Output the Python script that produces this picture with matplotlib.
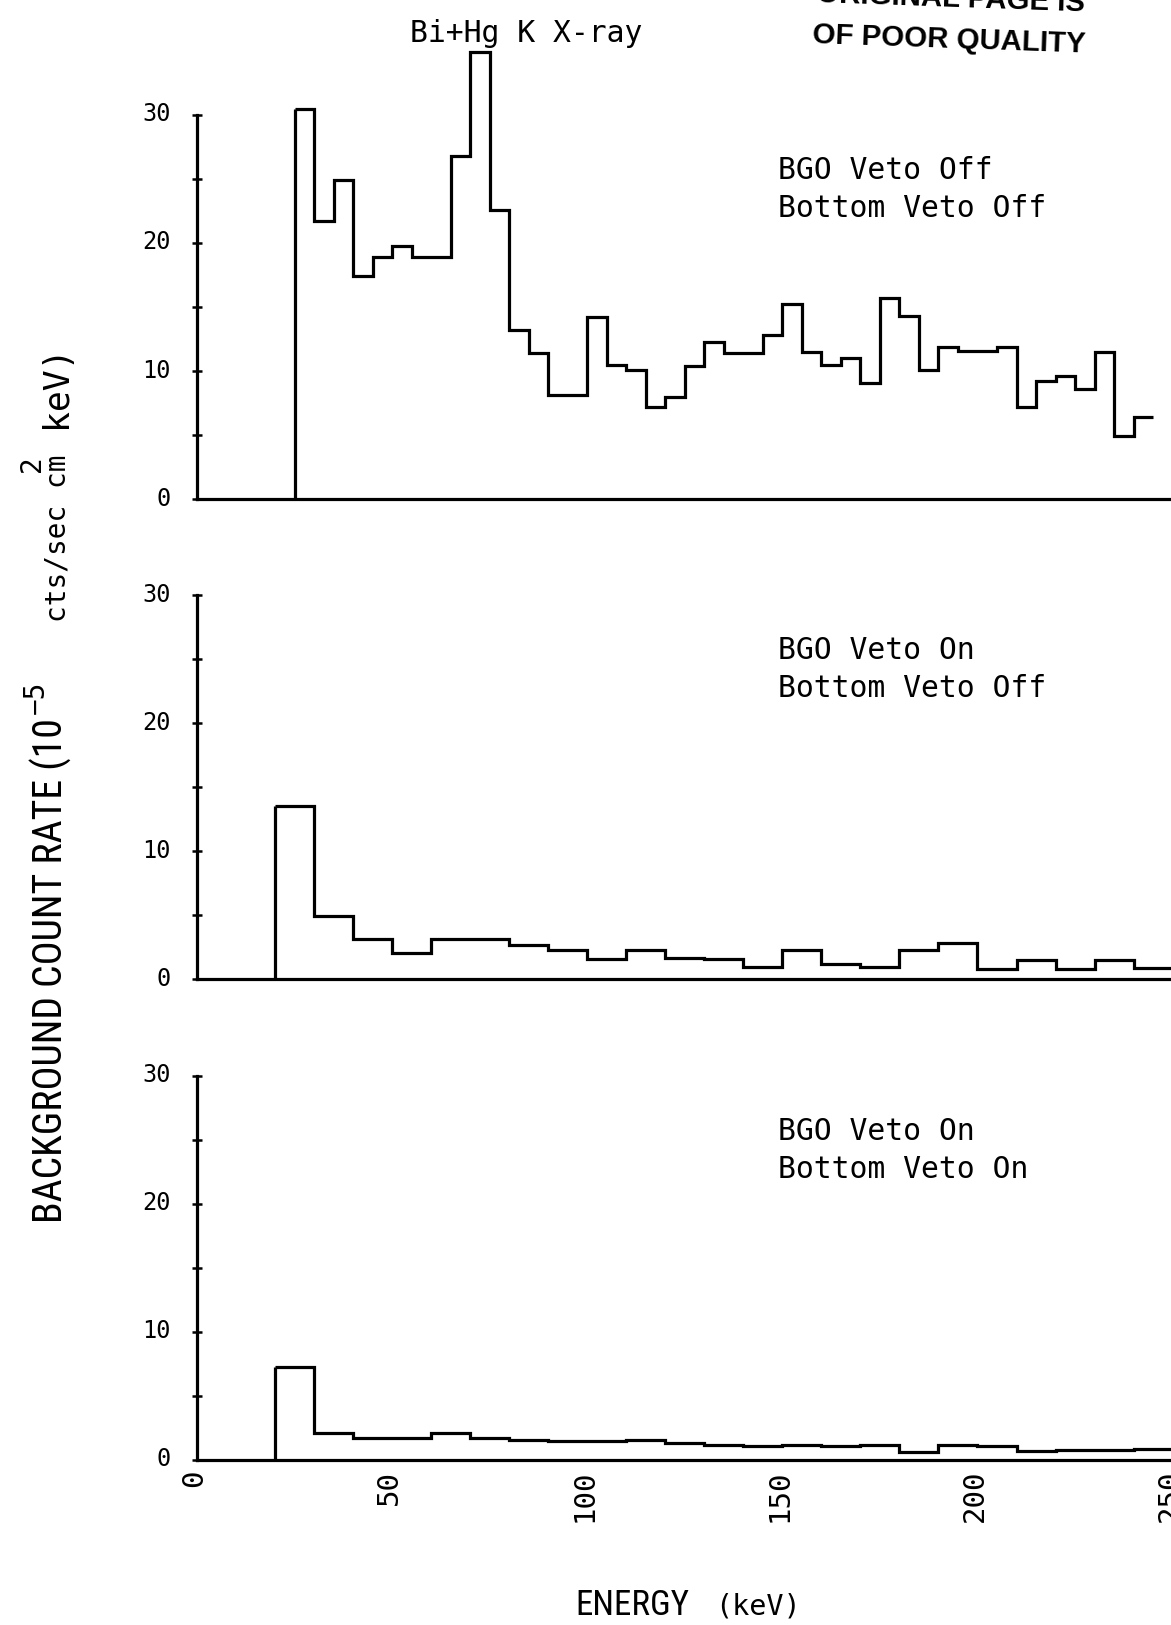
import numpy as np
import matplotlib
matplotlib.use("Agg")
import matplotlib.pyplot as plt
from matplotlib.transforms import ScaledTranslation
import logging
logging.getLogger("matplotlib.font_manager").setLevel(logging.ERROR)

# ---------------- data ----------------
energy_ticks = [0, 50, 100, 150, 200, 250]
count_ticks = [0, 10, 20, 30]
count_minor = [5, 15, 25]

# Panel 1: BGO veto off, bottom veto off  (5 keV bins starting at 25 keV)
top_start, top_width = 25, 5
top_rate = [30.5, 21.7, 24.9, 17.4, 18.9, 19.8, 18.9, 18.9, 26.8, 34.9,
            22.6, 13.2, 11.4, 8.1, 8.1, 14.2, 10.5, 10.1, 7.2, 8.0,
            10.4, 12.3, 11.4, 11.4, 12.8, 15.2, 11.5, 10.5, 11.0, 9.1,
            15.7, 14.3, 10.1, 11.9, 11.6, 11.6, 11.9, 7.2, 9.2, 9.6,
            8.6, 11.5, 4.9, 6.4]

# Panel 2: BGO veto on, bottom veto off  (10 keV bins starting at 20 keV)
mid_start, mid_width = 20, 10
mid_rate = [13.5, 4.95, 3.1, 2.0, 3.15, 3.15, 2.65, 2.3, 1.6, 2.3,
            1.65, 1.6, 0.9, 2.3, 1.15, 0.9, 2.3, 2.8, 0.75, 1.45,
            0.75, 1.45, 0.85]

# Panel 3: BGO veto on, bottom veto on  (10 keV bins starting at 20 keV)
bot_start, bot_width = 20, 10
bot_rate = [7.3, 2.1, 1.75, 1.75, 2.1, 1.7, 1.6, 1.5, 1.5, 1.55,
            1.35, 1.2, 1.1, 1.2, 1.1, 1.15, 0.65, 1.15, 1.1, 0.7,
            0.75, 0.8, 0.85]

panel_labels = [("BGO Veto Off", "Bottom Veto Off"),
                ("BGO Veto On", "Bottom Veto Off"),
                ("BGO Veto On", "Bottom Veto On")]

# ---------------- layout ----------------
W, H, DPI = 1171, 1625, 100
fig = plt.figure(figsize=(W / DPI, H / DPI), dpi=DPI)
fig.patch.set_facecolor("white")

MONO = "DejaVu Sans Mono"
THIN = ["Noto Sans Condensed", "DejaVu Sans Condensed", "Roboto Condensed",
        "Liberation Sans Narrow", "Liberation Sans", "DejaVu Sans"]
LW = 2.3

ax_left, ax_right = 197, 1172.6
zero_px = [499, 979, 1460]
ax_h = 384

panels = [(top_start, top_width, top_rate),
          (mid_start, mid_width, mid_rate),
          (bot_start, bot_width, bot_rate)]

axes = []
for i, (start, width, rate) in enumerate(panels):
    y0 = zero_px[i]
    ax = fig.add_axes([ax_left / W, 1 - y0 / H, (ax_right - ax_left) / W, ax_h / H])
    edges = start + width * np.arange(len(rate) + 1)
    ax.stairs(rate, edges, baseline=None, color="black", lw=LW, clip_on=False)
    ax.vlines(edges[0], 0, rate[0], color="black", lw=LW, clip_on=False)
    ax.set_xlim(0, 250)
    ax.set_ylim(0, 30)
    for s in ("top", "right"):
        ax.spines[s].set_visible(False)
    for s in ("left", "bottom"):
        ax.spines[s].set_linewidth(LW)
    ax.set_yticks(count_ticks)
    ax.set_yticks(count_minor, minor=True)
    ax.tick_params(axis="y", which="both", direction="inout", length=7.5,
                   width=1.8, labelsize=17, pad=15)
    for lab in ax.get_yticklabels():
        lab.set_family(MONO)
        lab.set_transform(lab.get_transform() +
                          ScaledTranslation(0, 3 / DPI, fig.dpi_scale_trans))
    ax.set_xticks(energy_ticks)
    ax.tick_params(axis="x", length=0, labelbottom=(i == 2), labelsize=21,
                   pad=7, labelrotation=90)
    if i == 2:
        for lab in ax.get_xticklabels():
            lab.set_family(MONO)
            lab.set_transform(lab.get_transform() +
                              ScaledTranslation(-3 / DPI, 0, fig.dpi_scale_trans))
    l1, l2 = panel_labels[i]
    ax.text(149, 25, l1, family=MONO, fontsize=21.4, ha="left", va="baseline")
    ax.text(149, 22, l2, family=MONO, fontsize=21.4, ha="left", va="baseline")
    axes.append(ax)

axes[0].text(54.7, 35.7, "Bi+Hg K X-ray", family=MONO, fontsize=21.4,
             ha="left", va="baseline", clip_on=False)


def ftext(x, y, s, **kw):
    return fig.text(x / W, 1 - y / H, s, **kw)


# stamp
ftext(1085, 53, "OF POOR QUALITY", family="Liberation Sans", weight="bold",
      fontsize=21.2, ha="right", va="baseline", rotation=-2.0,
      rotation_mode="anchor")
ftext(1085, 11, "ORIGINAL PAGE IS", family="Liberation Sans", weight="bold",
      fontsize=21.2, ha="right", va="baseline", rotation=-2.0,
      rotation_mode="anchor")

# y axis label (pieces)
t_bg = ftext(63, 1223, "BACKGROUND COUNT RATE (10", family=THIN, fontsize=24,
             fontstretch="condensed",
             rotation=90, rotation_mode="anchor", ha="left", va="baseline")
ftext(44, 714, "\u22125", family=MONO, fontsize=20,
      rotation=90, rotation_mode="anchor", ha="left", va="baseline")
ftext(66, 622, "cts/sec cm", family=MONO, fontsize=20,
      rotation=90, rotation_mode="anchor", ha="left", va="baseline")
ftext(40, 472, "2", family=MONO, fontsize=20,
      rotation=90, rotation_mode="anchor", ha="left", va="baseline")
ftext(66, 428, "keV)", family=MONO, fontsize=25,
      rotation=90, rotation_mode="anchor", ha="left", va="baseline")

# x axis label
t_en = ftext(575, 1615, "ENERGY", family=THIN, fontsize=26,
             fontstretch="condensed", ha="left", va="baseline")
ftext(715, 1615, "(keV)", family=MONO, fontsize=20.5, ha="left", va="baseline")

# fit the condensed-looking labels to the reference lengths
fig.canvas.draw()
r = fig.canvas.get_renderer()
for t, target in ((t_bg, 505), (t_en, 114)):
    bb = t.get_window_extent(r)
    length = max(bb.width, bb.height)
    t.set_fontsize(t.get_fontsize() * target / length)

fig.savefig("out.png", dpi=DPI, facecolor="white")
